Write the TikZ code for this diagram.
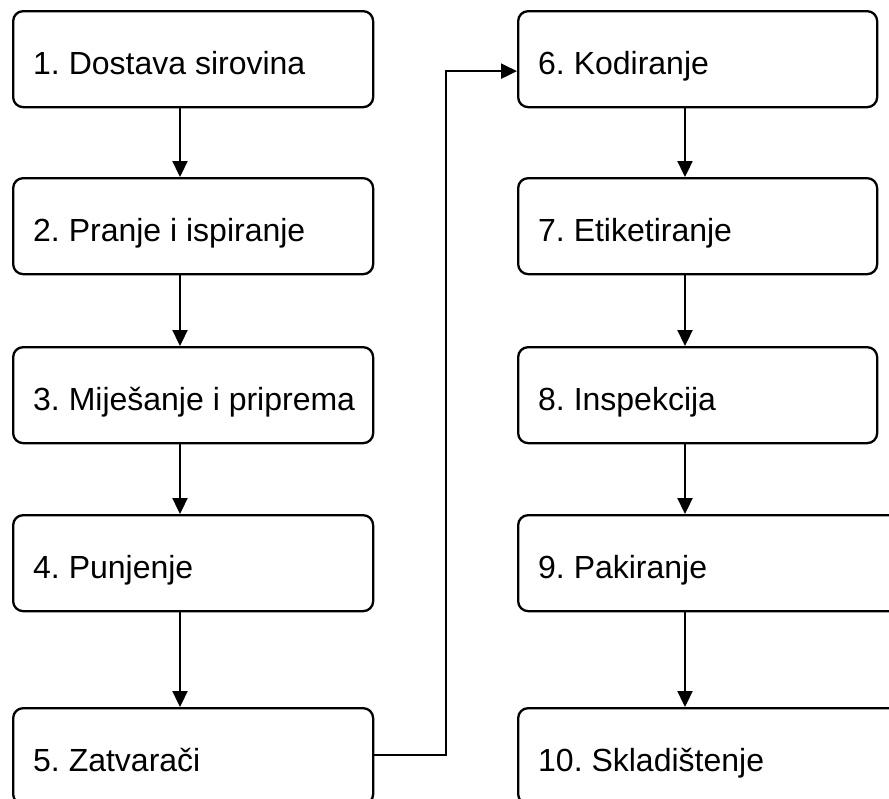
\documentclass[tikz,border=0pt]{standalone}
\usepackage{fontspec}
\setmainfont{Liberation Sans}
\usetikzlibrary{arrows.meta,calc}
\frenchspacing
\begin{document}
\begin{tikzpicture}[x=1pt,y=-1pt,
  stepbox/.style={draw=black,line width=2.3pt,rounded corners=10pt,rectangle,anchor=north west,inner sep=0pt,minimum height=96pt},
  lbl/.style={anchor=base west,inner sep=0pt,font=\fontsize{32}{38}\selectfont,text=black},
  arr/.style={draw=black,line width=2.3pt,-{Triangle[length=16pt,width=15pt]}}]
\useasboundingbox (0,0) rectangle (889,798);
% left column
\node[stepbox,minimum width=360pt] (b1) at (12,10) {};
\node[stepbox,minimum width=360pt] (b2) at (12,177) {};
\node[stepbox,minimum width=360pt] (b3) at (12,346) {};
\node[stepbox,minimum width=360pt] (b4) at (12,514) {};
\node[stepbox,minimum width=360pt] (b5) at (12,707) {};
% right column
\node[stepbox,minimum width=359pt] (b6) at (517,10) {};
\node[stepbox,minimum width=359pt] (b7) at (517,177) {};
\node[stepbox,minimum width=359pt] (b8) at (517,346) {};
\node[stepbox,minimum width=420pt] (b9) at (517,514) {};
\node[stepbox,minimum width=420pt] (b10) at (517,707) {};
% labels
\node[lbl] (t1) at ($(b1.north west)+(21,64)$) {1. Dostava sirovina};
\node[lbl] (t2) at ($(b2.north west)+(21,64)$) {2. Pranje i ispiranje};
\node[lbl] (t3) at ($(b3.north west)+(21,64)$) {3. Miješanje i priprema};
\node[lbl] (t4) at ($(b4.north west)+(21,64)$) {4. Punjenje};
\node[lbl] (t5) at ($(b5.north west)+(21,64)$) {5. Zatvarači};
\node[lbl] (t6) at ($(b6.north west)+(21,64)$) {6. Kodiranje};
\node[lbl] (t7) at ($(b7.north west)+(21,64)$) {7. Etiketiranje};
\node[lbl] (t8) at ($(b8.north west)+(21,64)$) {8. Inspekcija};
\node[lbl] (t9) at ($(b9.north west)+(21,64)$) {9. Pakiranje};
\node[lbl] (t10) at ($(b10.north west)+(21,64)$) {10. Skladištenje};
% arrows
\foreach \a/\b in {b1/b2,b2/b3,b3/b4,b4/b5,b6/b7,b7/b8,b8/b9,b9/b10}
  \draw[arr] ([xshift=168pt]\a.south west) -- ([xshift=168pt]\b.north west);
\draw[arr] ([yshift=1pt]b5.east) -- ++(72,0) |- ([yshift=-12pt]b6.west);
\end{tikzpicture}
\end{document}
